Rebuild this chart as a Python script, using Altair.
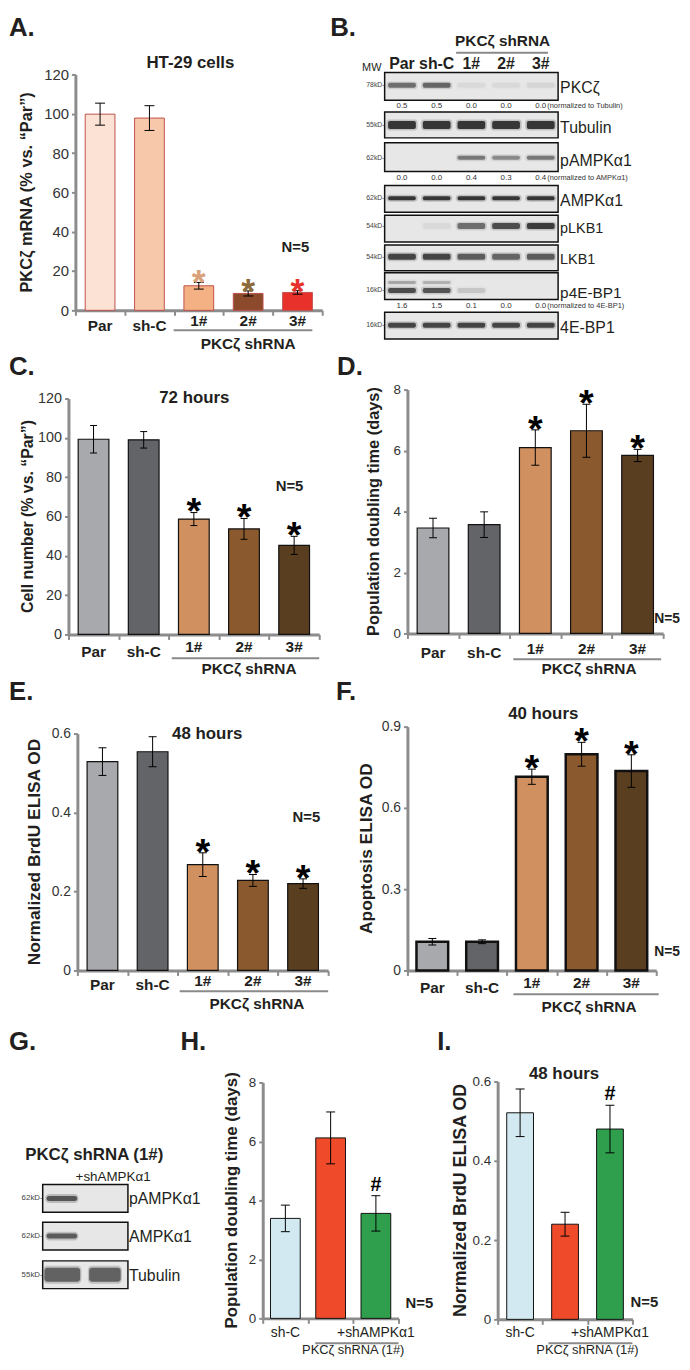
import altair as alt
import pandas as pd

SANS = "Liberation Sans"
AX = "#8C8C8C"
INK = "#231F20"
ONE = pd.DataFrame({"k": [0]})

# ---------------- data ----------------
groups5 = ["Par", "sh-C", "1#", "2#", "3#"]

a_mean = [99.8, 97.8, 12.5, 8.6, 9.1]
a_err = [5.6, 6.3, 1.7, 1.3, 0.9]
a_fill = ["#FBE2D5", "#F8C8AA", "#F4B183", "#8B4A2B", "#E8312A"]
a_sym = ["", "", "*", "*", "*"]
a_sym_col = ["#000000", "#000000", "#D9A27A", "#8C6A3C", "#E8312A"]

c_mean = [99.3, 99.0, 58.7, 53.7, 45.3]
c_err = [7.0, 4.2, 3.3, 5.3, 4.6]
d_mean = [3.46, 3.57, 6.10, 6.65, 5.84]
d_err = [0.32, 0.42, 0.58, 0.87, 0.20]
e_mean = [0.529, 0.554, 0.268, 0.228, 0.220]
e_err = [0.035, 0.038, 0.030, 0.015, 0.012]
f_mean = [0.106, 0.106, 0.715, 0.798, 0.736]
f_err = [0.012, 0.007, 0.028, 0.044, 0.060]
brown_fill = ["#A7A9AC", "#636467", "#D09060", "#8A5A2E", "#5A3E20"]
star5 = ["", "", "*", "*", "*"]
black5 = ["#000000"] * 5

groups3 = ["sh-C", "PKCζ shRNA (1#)", "+shAMPKα1"]
h_mean = [3.39, 6.12, 3.56]
h_err = [0.45, 0.88, 0.60]
i_mean = [0.521, 0.240, 0.480]
i_err = [0.060, 0.030, 0.060]
hi_fill = ["#D3E9F1", "#EF4B2B", "#2F9E4D"]
hash3 = ["", "", "#"]
black3 = ["#000000"] * 3

# western blot B
b_lanes = ["Par", "sh-C", "1#", "2#", "3#"]
b_rows = ["PKCζ", "Tubulin", "pAMPKα1", "AMPKα1", "pLKB1", "LKB1", "p4E-BP1", "4E-BP1"]
b_mw = ["78kD-", "55kD-", "62kD-", "62kD-", "54kD-", "54kD-", "16kD-", "16kD-"]
b_label_size = [16, 16, 16, 16, 14.5, 14.5, 15.5, 16]
b_band_int = {
    "PKCζ": [[0.60, 0.65, 0.06, 0.06, 0.08]],
    "Tubulin": [[0.95, 0.95, 0.95, 0.95, 0.95]],
    "pAMPKα1": [[0.0, 0.0, 0.55, 0.45, 0.55]],
    "AMPKα1": [[0.95, 0.95, 0.95, 0.95, 0.95]],
    "pLKB1": [[0.0, 0.06, 0.60, 0.80, 0.90]],
    "LKB1": [[0.85, 0.85, 0.70, 0.65, 0.70]],
    "p4E-BP1": [[0.30, 0.25, 0.0, 0.0, 0.0], [0.80, 0.75, 0.15, 0.0, 0.0]],
    "4E-BP1": [[0.85, 0.85, 0.85, 0.85, 0.85]],
}
b_quant = [
    ("PKCζ", ["0.5", "0.5", "0.0", "0.0", "0.0"], "(normalized to Tubulin)"),
    ("pAMPKα1", ["0.0", "0.0", "0.4", "0.3", "0.4"], "(normalized to AMPKα1)"),
    ("p4E-BP1", ["1.6", "1.5", "0.1", "0.0", "0.0"], "(normalized to 4E-BP1)"),
]

# western blot G
g_rows = ["pAMPKα1", "AMPKα1", "Tubulin"]
g_mw = ["62kD-", "62kD-", "55kD-"]
g_band_int = {"pAMPKα1": [0.9, 0.0], "AMPKα1": [0.85, 0.0], "Tubulin": [0.8, 0.8]}

# ---------------- layout (pixels, not data) ----------------
B_TOP = [0, 40, 71, 114, 144, 174, 202, 242]
B_HT = [28, 26, 29, 27, 27, 26, 27, 27]
B_BAND = {"PKCζ": [(13, 5)], "Tubulin": [(13, 8)], "pAMPKα1": [(15, 4)], "AMPKα1": [(13, 4)],
          "pLKB1": [(11, 6)], "LKB1": [(12, 6)], "p4E-BP1": [(10, 3), (18, 5)], "4E-BP1": [(13, 5)]}
B_QY = {"PKCζ": 34, "pAMPKα1": 107, "p4E-BP1": 236}
G_TOP = [0, 38, 77]
G_HT = 28
G_BAND = {"pAMPKα1": (5, 0.09, 0.81), "AMPKα1": (5, 0.09, 0.81), "Tubulin": (14, 0.04, 0.88)}


# ---------------- helpers ----------------
def bbox(W, H, l, r, t, b):
    # invisible frame fixing each panel's outer bounds (t reduced by 1 for the spacer row)
    return alt.Chart(ONE).mark_rule(strokeOpacity=0, strokeWidth=0.1).encode(
        x=alt.value(-l), x2=alt.value(W + r), y=alt.value(-(t - 1)), y2=alt.value(H + b))


def spacer():
    return alt.Chart(ONE).mark_rule(strokeOpacity=0).encode(
        x=alt.value(0), x2=alt.value(1), y=alt.value(0), y2=alt.value(1)).properties(width=1, height=1)


def txt(s, x, y, size, bold=False, align="center", baseline="middle", angle=0, color=INK):
    kw = dict(text=s, fontSize=size, font=SANS, align=align, baseline=baseline, color=color)
    if bold:
        kw["fontWeight"] = "bold"
    if angle:
        kw["angle"] = angle
    return alt.Chart(ONE).mark_text(**kw).encode(x=alt.value(x), y=alt.value(y))


def letter(s, x, y):
    return txt(s, x, y, 26, bold=True, align="left", baseline="alphabetic")


def cat_text(xs, xax, centers, texts, y, size, bold=True):
    df = pd.DataFrame({"c": centers, "t": texts})
    kw = dict(fontSize=size, font=SANS, baseline="middle", color=INK)
    if bold:
        kw["fontWeight"] = "bold"
    return alt.Chart(df).mark_text(**kw).encode(
        x=alt.X("c:Q", scale=xs, axis=xax), y=alt.value(y), text="t:N")


def underline(xs, xax, u0, u1, y):
    df = pd.DataFrame({"u0": [u0], "u1": [u1]})
    return alt.Chart(df).mark_rule(color="#8A8A8A", strokeWidth=2).encode(
        x=alt.X("u0:Q", scale=xs, axis=xax), x2="u1:Q", y=alt.value(y))


def yaxis(ticks, size, decimal):
    kw = dict(values=ticks, title=None, grid=False, domainColor=AX, domainWidth=3,
              tickColor=AX, tickWidth=2, tickSize=4, labelFont=SANS, labelFontSize=size,
              labelColor="#333333", labelPadding=3)
    if decimal:
        kw["labelExpr"] = "datum.value == 0 ? '0' : format(datum.value, '.1f')"
    else:
        kw["format"] = "d"
    return alt.Axis(**kw)


def bar_layers(cats, mean, err, fill, sym, sym_col, W, ymax, yticks, ysize, decimal,
               stroke, stroke_w, bar_half, cap_half, sym_size, sym_dy):
    n = len(cats)
    unit = W / n
    bh, ch = bar_half / unit, cap_half / unit
    rows = []
    for i in range(n):
        c = i + 0.5
        rows.append(dict(cat=cats[i], c=c, x0=c - bh, x1=c + bh, mean=mean[i], base=0.0,
                         lo=mean[i] - err[i], hi=mean[i] + err[i], cl=c - ch, cr=c + ch,
                         fill=fill[i], sym=sym[i], scol=sym_col[i]))
    df = pd.DataFrame(rows)
    xs = alt.Scale(domain=[0, n], nice=False, zero=False)
    ys = alt.Scale(domain=[0, ymax], nice=False, zero=True)
    xax = alt.Axis(values=list(range(n + 1)), labels=False, title=None, grid=False,
                   domainColor=AX, domainWidth=3, tickColor=AX, tickWidth=2, tickSize=5)
    yax = yaxis(yticks, ysize, decimal)
    base = alt.Chart(df)
    bars = base.mark_rect(stroke=stroke, strokeWidth=stroke_w).encode(
        x=alt.X("x0:Q", scale=xs, axis=xax), x2="x1:Q",
        y=alt.Y("mean:Q", scale=ys, axis=yax), y2="base:Q",
        fill=alt.Fill("fill:N", scale=None))
    stem = base.mark_rule(color="black", strokeWidth=1).encode(
        x=alt.X("c:Q", scale=xs, axis=xax), y=alt.Y("lo:Q", scale=ys, axis=yax), y2="hi:Q")
    cap_lo = base.mark_rule(color="black", strokeWidth=1).encode(
        x=alt.X("cl:Q", scale=xs, axis=xax), x2="cr:Q", y=alt.Y("lo:Q", scale=ys, axis=yax))
    cap_hi = base.mark_rule(color="black", strokeWidth=1).encode(
        x=alt.X("cl:Q", scale=xs, axis=xax), x2="cr:Q", y=alt.Y("hi:Q", scale=ys, axis=yax))
    marks = base.mark_text(font=SANS, fontWeight="bold", fontSize=sym_size,
                           baseline="alphabetic", dy=sym_dy).encode(
        x=alt.X("c:Q", scale=xs, axis=xax), y=alt.Y("hi:Q", scale=ys, axis=yax),
        text="sym:N", color=alt.Color("scol:N", scale=None))
    return [bars, stem, cap_lo, cap_hi, marks], xs, xax


def five_group_labels(xs, xax, H, size, y_ctrl, y_sh, y_line, y_grp, u0, u1, uc, gsize):
    return [
        cat_text(xs, xax, [0.5, 1.5], groups5[:2], H + y_ctrl, size),
        cat_text(xs, xax, [2.5, 3.5, 4.5], groups5[2:], H + y_sh, size),
        underline(xs, xax, u0, u1, H + y_line),
        cat_text(xs, xax, [uc], ["PKCζ shRNA"], H + y_grp, gsize),
    ]


def three_group_labels(xs, xax, H, y_lab, y_line, y_grp, u0):
    return [
        cat_text(xs, xax, [0.5, 2.5], [groups3[0], groups3[2]], H + y_lab, 14, bold=False),
        underline(xs, xax, u0, 3.0, H + y_line),
        cat_text(xs, xax, [2.0], [groups3[1]], H + y_grp, 13, bold=False),
    ]


def rect_layer(rows, scale_x, scale_y, **mk):
    df = pd.DataFrame(rows)
    enc = dict(x=alt.X("x0:Q", scale=scale_x, axis=None), x2="x1:Q",
               y=alt.Y("y0:Q", scale=scale_y, axis=None), y2="y1:Q")
    if "op" in df.columns:
        enc["opacity"] = alt.Opacity("op:Q", scale=None)
    return alt.Chart(df).mark_rect(**mk).encode(**enc)


# ---------------- panel A ----------------
W, H = 249, 238
lay, xs, xax = bar_layers(groups5, a_mean, a_err, a_fill, a_sym, a_sym_col, W, 120,
                          [0, 20, 40, 60, 80, 100, 120], 15, False,
                          "#C0504D", 1, 15, 5, 36, 12)
panelA = alt.layer(
    bbox(W, H, 67, 5, 61, 43), *lay,
    *five_group_labels(xs, xax, H, 15.5, 16, 11, 20, 34, 1.99, 4.8, 3.5, 15.5),
    txt("HT-29 cells", 116, -12, 17, bold=True),
    txt("N=5", 222, 174, 15, bold=True),
    txt("PKCζ mRNA (% vs. “Par”)", -49, H / 2, 16.5, bold=True, angle=270),
    letter("A.", -67, -39),
).properties(width=W, height=H)

# ---------------- panel B (blot) ----------------
BW, BH = 175, 269
bx = alt.Scale(domain=[0, 5], nice=False, zero=False)
by = alt.Scale(domain=[0, BH], nice=False, zero=False, reverse=True)
bg_rows, band_rows, halo_rows, mw_rows, lab_rows, q_rows, note_rows = [], [], [], [], [], [], []
for r, name in enumerate(b_rows):
    top = B_TOP[r]
    bg_rows.append(dict(x0=0, x1=5, y0=top, y1=top + B_HT[r]))
    for (cy, th), ints in zip(B_BAND[name], b_band_int[name]):
        for lane, v in enumerate(ints):
            if v <= 0:
                continue
            band_rows.append(dict(x0=lane + 0.1, x1=lane + 0.9, y0=top + cy - th / 2, y1=top + cy + th / 2, op=v))
            halo_rows.append(dict(x0=lane + 0.05, x1=lane + 0.95, y0=top + cy - th / 2 - 1.5,
                                  y1=top + cy + th / 2 + 1.5, op=v * 0.35))
    cy_mw = B_BAND[name][-1][0]
    mw_rows.append(dict(y=top + cy_mw, t=b_mw[r]))
    lab_rows.append(dict(y=top + cy_mw + 3, t=name, fs=b_label_size[r]))
for name, vals, note in b_quant:
    yq = B_QY[name]
    for lane, v in enumerate(vals):
        q_rows.append(dict(c=lane + 0.5, y=yq, t=v))
    note_rows.append(dict(y=yq, t=note))

panelB = alt.layer(
    bbox(BW, BH, 58, 125, 59, 14),
    rect_layer(bg_rows, bx, by, fill="#E7E7E7", stroke="#111111", strokeWidth=1.5),
    rect_layer(halo_rows, bx, by, fill="#707070", cornerRadius=3),
    rect_layer(band_rows, bx, by, fill="#2E2E2E", cornerRadius=2),
    alt.Chart(pd.DataFrame(mw_rows)).mark_text(fontSize=7, font=SANS, align="right", baseline="middle", color="#444444").encode(
        x=alt.value(0), y=alt.Y("y:Q", scale=by, axis=None), text="t:N"),
    alt.Chart(pd.DataFrame(lab_rows)).mark_text(font=SANS, align="left", baseline="middle", color=INK).encode(
        x=alt.value(BW + 2), y=alt.Y("y:Q", scale=by, axis=None), text="t:N", size=alt.Size("fs:Q", scale=None)),
    alt.Chart(pd.DataFrame(q_rows)).mark_text(fontSize=8, font=SANS, baseline="middle", color="#333333").encode(
        x=alt.X("c:Q", scale=bx, axis=None), y=alt.Y("y:Q", scale=by, axis=None), text="t:N"),
    alt.Chart(pd.DataFrame(note_rows)).mark_text(fontSize=7.5, font=SANS, align="left", baseline="middle", color="#333333").encode(
        x=alt.value(164), y=alt.Y("y:Q", scale=by, axis=None), text="t:N"),
    cat_text(bx, None, [i + 0.5 for i in range(5)], b_lanes, -8, 16),
    cat_text(bx, None, [3.4], ["PKCζ shRNA"], -32, 15.5),
    underline(bx, None, 2.06, 4.71, -20),
    txt("MW", -13, -4, 11),
    letter("B.", -55, -37),
).properties(width=BW, height=BH)

# ---------------- panel C ----------------
W, H = 253, 238
lay, xs, xax = bar_layers(groups5, c_mean, c_err, brown_fill, star5, black5, W, 120,
                          [0, 20, 40, 60, 80, 100, 120], 14.5, False,
                          "#111111", 1.2, 15.5, 3.5, 38, 12)
panelC = alt.layer(
    bbox(W, H, 60, 12, 45, 44), *lay,
    *five_group_labels(xs, xax, H, 15.5, 18, 13, 24, 35, 2.06, 5.0, 3.6, 15.5),
    txt("72 hours", 127, -1, 17, bold=True),
    txt("N=5", 223, 88, 15, bold=True),
    txt("Cell number (% vs. “Par”)", -41, H / 2, 16, bold=True, angle=270),
    letter("C.", -60, -24),
).properties(width=W, height=H)

# ---------------- panel D ----------------
W, H = 258, 246
lay, xs, xax = bar_layers(groups5, d_mean, d_err, brown_fill, star5, black5, W, 8,
                          [0, 2, 4, 6, 8], 13.5, False,
                          "#111111", 1.2, 16, 4, 38, 12)
panelD = alt.layer(
    bbox(W, H, 77, 19, 36, 45), *lay,
    *five_group_labels(xs, xax, H, 15.5, 20, 16, 26, 36, 2.07, 4.96, 3.55, 15.5),
    txt("N=5", 262, 231, 14, bold=True),
    txt("Population doubling time (days)", -34, H / 2, 16.5, bold=True, angle=270),
    letter("D.", -71, -15),
).properties(width=W, height=H)

# ---------------- panel E ----------------
W, H = 253, 239
lay, xs, xax = bar_layers(groups5, e_mean, e_err, brown_fill, star5, black5, W, 0.6,
                          [0, 0.2, 0.4, 0.6], 14, True,
                          "#111111", 1.2, 15.5, 4, 38, 12)
panelE = alt.layer(
    bbox(W, H, 69, 3, 56, 50), *lay,
    *five_group_labels(xs, xax, H, 15.5, 15, 11, 21, 34, 2.04, 5.0, 3.58, 15.5),
    txt("48 hours", 131, 0, 17, bold=True),
    txt("N=5", 231, 84, 15, bold=True),
    txt("Normalized BrdU ELISA OD", -43, H / 2, 17.5, bold=True, angle=270),
    letter("E.", -69, -34),
).properties(width=W, height=H)

# ---------------- panel F ----------------
W, H = 251, 246
lay, xs, xax = bar_layers(groups5, f_mean, f_err, brown_fill, star5, black5, W, 0.9,
                          [0, 0.3, 0.6, 0.9], 14, True,
                          "#111111", 2.5, 16, 4, 38, 12)
panelF = alt.layer(
    bbox(W, H, 77, 26, 49, 50), *lay,
    *five_group_labels(xs, xax, H, 15.5, 18, 13, 24, 37, 2.13, 5.05, 3.65, 15.5),
    txt("40 hours", 137, -13, 17, bold=True),
    txt("N=5", 262, 227, 14, bold=True),
    txt("Apoptosis ELISA OD", -41, H / 2, 17.5, bold=True, angle=270),
    letter("F.", -72, -27),
).properties(width=W, height=H)

# ---------------- panel G (blot) ----------------
GW, GH = 86, 105
gx = alt.Scale(domain=[0, 2], nice=False, zero=False)
gy = alt.Scale(domain=[0, GH], nice=False, zero=False, reverse=True)
g_bg, g_band, g_halo, g_mwrows, g_lab = [], [], [], [], []
for r, name in enumerate(g_rows):
    top = G_TOP[r]
    g_bg.append(dict(x0=0, x1=2, y0=top, y1=top + G_HT))
    th, a0, a1 = G_BAND[name]
    for lane, v in enumerate(g_band_int[name]):
        if v <= 0:
            continue
        x0, x1 = (lane + a0, lane + a1) if lane == 0 else (lane + 0.09, lane + 0.83)
        g_band.append(dict(x0=x0, x1=x1, y0=top + 14 - th / 2, y1=top + 14 + th / 2, op=v))
        g_halo.append(dict(x0=x0 - 0.03, x1=x1 + 0.03, y0=top + 14 - th / 2 - 2, y1=top + 14 + th / 2 + 2, op=v * 0.4))
    g_mwrows.append(dict(y=top + 14, t=g_mw[r]))
    g_lab.append(dict(y=top + 15, t=name))
panelG = alt.layer(
    bbox(GW, GH, 34, 87, 166, 69),
    rect_layer(g_bg, gx, gy, fill="#E7E7E7", stroke="#111111", strokeWidth=1.5),
    rect_layer(g_halo, gx, gy, fill="#707070", cornerRadius=4),
    rect_layer(g_band, gx, gy, fill="#4A4A4A", cornerRadius=3),
    alt.Chart(pd.DataFrame(g_mwrows)).mark_text(fontSize=8, font=SANS, align="right", baseline="middle", color="#444444").encode(
        x=alt.value(0), y=alt.Y("y:Q", scale=gy, axis=None), text="t:N"),
    alt.Chart(pd.DataFrame(g_lab)).mark_text(fontSize=16, font=SANS, align="left", baseline="middle", color=INK).encode(
        x=alt.value(GW + 1), y=alt.Y("y:Q", scale=gy, axis=None), text="t:N"),
    txt("PKCζ shRNA (1#)", 52, -30, 17, bold=True),
    txt("+shAMPKα1", 71, -8, 13.5),
    letter("G.", -34, -136),
    letter("H.", 139, -136),
).properties(width=GW, height=GH)

# ---------------- panel H ----------------
W, H = 137, 238
lay, xs, xax = bar_layers(groups3, h_mean, h_err, hi_fill, hash3, black3, W, 8,
                          [0, 2, 4, 6, 8], 13.5, False,
                          "#111111", 1, 15, 4.5, 20, -5)
panelH = alt.layer(
    bbox(W, H, 49, 38, 63, 39), *lay,
    *three_group_labels(xs, xax, H, 15, 25, 32, 1.16),
    txt("N=5", 158, 223, 15, bold=True),
    txt("Population doubling time (days)", -31, H / 2, 17, bold=True, angle=270),
).properties(width=W, height=H)

# ---------------- panel I ----------------
W, H = 136, 240
lay, xs, xax = bar_layers(groups3, i_mean, i_err, hi_fill, hash3, black3, W, 0.6,
                          [0, 0.2, 0.4, 0.6], 13.5, True,
                          "#111111", 1, 13.5, 4.5, 20, -5)
panelI = alt.layer(
    bbox(W, H, 62, 50, 62, 38), *lay,
    *three_group_labels(xs, xax, H, 14, 24, 31, 1.13),
    txt("48 hours", 67, -7, 17, bold=True),
    txt("N=5", 148, 223, 15, bold=True),
    txt("Normalized BrdU ELISA OD", -37, H / 2, 18, bold=True, angle=270),
    letter("I.", -61, -32),
).properties(width=W, height=H)


def row(*panels):
    cells = [alt.vconcat(spacer(), p, spacing=0) for p in panels]
    return alt.hconcat(spacer(), *cells, spacing=0)


chart = alt.vconcat(
    row(panelA, panelB),
    row(panelC, panelD),
    row(panelE, panelF),
    row(panelG, panelH, panelI),
    spacing=0,
).properties(padding=0, background="white").configure_view(strokeWidth=0)

chart.save("out.html", embed_options={"renderer": "svg", "actions": False})
